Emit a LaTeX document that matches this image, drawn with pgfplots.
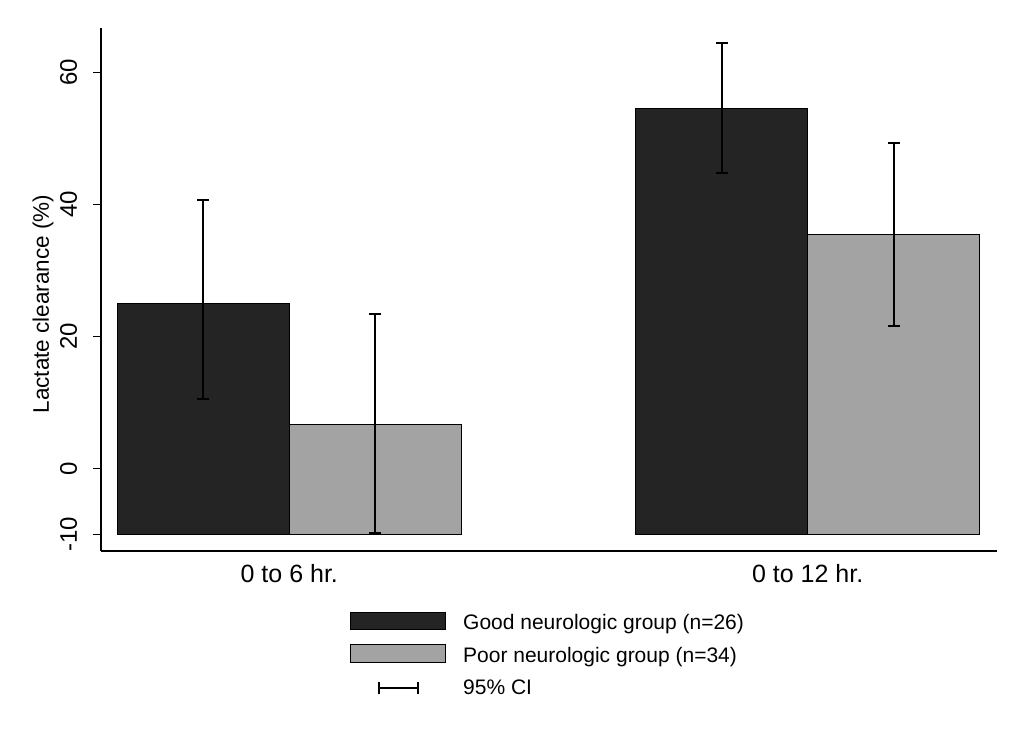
\documentclass[border=0pt]{standalone}
\usepackage{pgfplots}
\pgfplotsset{compat=1.18}
\usepackage{fontspec}
\setmainfont{Liberation Sans}
\definecolor{gooddark}{HTML}{242424}
\definecolor{poorgray}{HTML}{A3A3A3}
\begin{document}
\begin{tikzpicture}[font=\fontsize{21}{25}\selectfont]
\path[use as bounding box] (-101pt,-193pt) rectangle (923pt,551pt);
\begin{axis}[
  at={(0pt,0pt)}, anchor=south west,
  scale only axis, width=896pt, height=523pt,
  xmin=-0.3632, xmax=1.3652, ymin=-12.5, ymax=66.7,
  y coord trafo/.code={\pgfmathparse{#1+10}},
  y coord inv trafo/.code={\pgfmathparse{#1-10}},
  axis x line=bottom, axis y line=left,
  axis line style={-, line width=1.3pt},
  xtick={0,1}, xticklabels={0 to 6 hr., 0 to 12 hr.},
  xtick style={draw=none},
  ytick={-10,0,20,40,60}, yticklabels={-10,0,20,40,60},
  ytick style={line width=1.2pt, black},
  tick align=outside, major tick length=8pt,
  yticklabel style={font=\fontsize{24}{28}\selectfont, xshift=-16pt, rotate=90, anchor=base, inner sep=0pt},
  xticklabel style={font=\fontsize{25}{29}\selectfont, yshift=-23pt, anchor=base, inner sep=0pt},
  ylabel={Lactate clearance (\%)},
  ylabel style={font=\fontsize{22.5}{27}\selectfont, at={(axis description cs:-0.0582,0.4723)}, anchor=base, inner sep=0pt},
  legend style={at={(0.2779,-0.1157)}, anchor=north west, draw=none, fill=none,
    inner sep=0pt, outer sep=0pt, row sep=14pt, column sep=17pt,
    nodes={inner sep=0pt, text height=15pt, text depth=0pt, anchor=west}},
  legend cell align=left,
]
\addplot[ybar, bar width=0.332, bar shift=0pt, fill=gooddark, draw=black, line width=1.2pt,
  legend image code/.code={\draw[fill=gooddark, draw=black, line width=1.2pt] (0pt,-7.5pt) rectangle (95pt,10pt);}]
  coordinates {(-0.166,25.0) (0.834,54.55)};
\addlegendentry{Good neurologic group (n=26)}
\addplot[ybar, bar width=0.332, bar shift=0pt, fill=poorgray, draw=black, line width=1.2pt,
  legend image code/.code={\draw[fill=poorgray, draw=black, line width=1.2pt] (0pt,-7.5pt) rectangle (95pt,10pt);}]
  coordinates {(0.166,6.7) (1.166,35.47)};
\addlegendentry{Poor neurologic group (n=34)}
% 95% CI
\addplot[black, line width=2pt, mark=-, mark size=6pt, forget plot] coordinates {(-0.166,10.5) (-0.166,40.66)};
\addplot[black, line width=2pt, mark=-, mark size=6pt, forget plot] coordinates {(0.834,44.8) (0.834,64.4)};
\addplot[black, line width=2pt, mark=-, mark size=6pt, forget plot] coordinates {(0.166,-9.7) (0.166,23.4)};
\addplot[black, line width=2pt, mark=-, mark size=6pt, forget plot] coordinates {(1.166,21.5) (1.166,49.3)};
\addlegendimage{legend image code/.code={
  \path[draw=none, fill=none] (0pt,-7.5pt) rectangle (95pt,10pt);
  \draw[black, line width=2pt] (28pt,-1.5pt) -- (67pt,-1.5pt);
  \draw[black, line width=2pt] (28pt,-7.5pt) -- (28pt,4.5pt);
  \draw[black, line width=2pt] (67pt,-7.5pt) -- (67pt,4.5pt);}}
\addlegendentry{95\% CI}
\end{axis}
\end{tikzpicture}
\end{document}
